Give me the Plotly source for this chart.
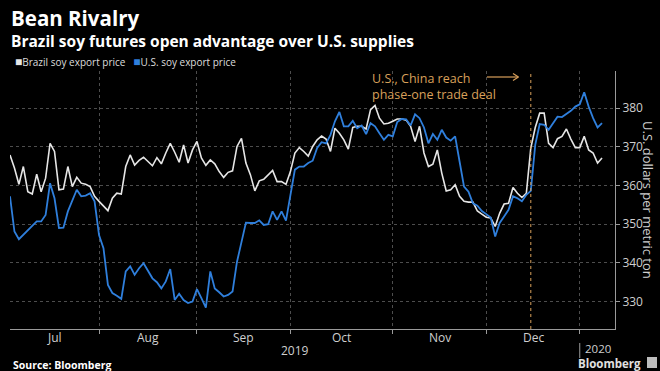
import pandas as pd
import plotly.graph_objects as go

# Daily soybean export prices, USD per metric ton (trading days)
HOLIDAYS = ["2019-07-04", "2019-12-25", "2020-01-01"]
START, END = "2019-07-03", "2020-01-09"

brazil = [
    367.9, 364.5, 360.3, 364.9, 358.4, 357.8, 362.9, 358.4, 361.9, 370.9,
    368.8, 358.9, 359.1, 364.9, 359.7, 362.1, 360.6, 360.3, 359.7, 357.2,
    355.9, 354.6, 353.5, 356.7, 358.0, 357.8, 364.9, 367.9,
    365.3, 366.5, 367.3, 366.2, 365.1, 367.2, 365.6, 368.4, 370.9, 368.6,
    366.0, 370.5, 365.8, 369.2, 371.4, 367.1, 365.2, 366.6, 365.6, 363.6,
    362.1, 363.4, 363.8, 370.1, 372.2, 365.8, 362.8,
    358.6, 361.2, 361.6, 362.8, 363.9, 361.0, 361.0, 360.3, 363.6, 368.4,
    369.8, 368.8, 367.6, 370.1, 371.8, 372.8, 372.0, 368.8, 374.8, 373.5,
    371.8, 369.4, 375.0, 375.3, 375.3, 374.6, 379.6,
    380.7, 377.4, 375.9, 376.1, 376.6, 377.2, 377.2, 376.9, 375.3, 371.4,
    375.3, 368.4, 364.9, 365.5, 369.2, 363.2, 358.6, 358.9, 360.2, 357.2,
    355.9, 355.7, 355.7, 353.4, 352.6, 351.8, 351.6,
    349.4, 352.8, 355.2, 355.4, 359.5, 358.0, 356.9, 358.0, 369.7, 375.0,
    378.7, 378.7, 370.9, 369.8, 372.1, 372.7, 374.6, 372.0, 369.8, 369.8,
    372.7, 369.2, 368.4, 365.8, 367.1,
]

us = [
    357.2, 348.1, 346.1, 347.2, 348.5, 349.6, 350.7, 350.7, 352.4, 360.6,
    356.7, 349.0, 349.1, 353.3, 356.0, 358.9, 357.2, 357.4, 358.0, 355.9,
    347.2, 343.8, 334.3, 332.2, 331.5, 330.7, 337.8, 339.1,
    336.9, 338.6, 339.9, 337.8, 336.0, 335.0, 333.4, 335.2, 338.4, 330.4,
    332.0, 330.4, 329.6, 330.0, 333.2, 330.9, 328.4, 337.8, 333.4, 332.4,
    331.3, 331.7, 332.6, 340.3, 345.5, 350.4, 350.3,
    350.3, 351.0, 349.8, 350.0, 353.3, 351.1, 353.3, 350.9, 357.6, 364.1,
    364.9, 364.9, 365.8, 366.4, 369.7, 371.2, 370.9, 373.1, 376.6, 379.0,
    375.3, 375.3, 376.7, 374.8, 375.5, 373.3, 376.1,
    375.3, 373.5, 371.8, 373.1, 372.7, 376.4, 377.2, 377.1, 375.5, 378.4,
    377.4, 375.0, 370.9, 373.3, 371.8, 374.4, 372.4, 371.6, 372.7, 366.2,
    359.7, 358.4, 355.4, 354.8, 353.4, 352.6, 351.7,
    346.8, 350.3, 352.0, 353.7, 357.2, 356.7, 355.9, 357.6, 358.6, 370.5,
    375.9, 375.7, 374.4, 376.1, 377.8, 377.7, 378.4, 379.3, 380.4, 381.0,
    384.1, 380.4, 377.4, 375.0, 376.1,
]

y_ticks = [330, 340, 350, 360, 370, 380]
deal_date = "2019-12-16"

dates = [d for d in pd.bdate_range(START, END) if d.strftime("%Y-%m-%d") not in HOLIDAYS]

WHITE = "#e6e6e6"
BLUE = "#2f7fdc"
ORANGE = "#d9a05b"
GRID = "#4d4d4d"
AXIS = "#9a9a9a"
TEXT = "#cfcfcf"
FONT = "Open Sans"

W, H = 660, 371
L, R, T, B = 10, 45, 71, 42
PW, PH = W - L - R, H - T - B


def px(xp):
    return (xp - L) / PW


def py(yp):
    return (H - B - yp) / PH


# first trading day of each month -> gridlines
month_idx = [0]
for i in range(1, len(dates)):
    if dates[i].month != dates[i - 1].month:
        month_idx.append(i)
month_starts = [dates[i] for i in month_idx[1:]]


def mid_date(i, j):
    k = (i + j) / 2
    base = dates[int(k)]
    return base + pd.Timedelta(hours=12) if k % 1 else base


fig = go.Figure()
fig.add_trace(go.Scatter(x=dates, y=brazil, mode="lines", name="Brazil soy export price",
                         line=dict(color=WHITE, width=1.6)))
fig.add_trace(go.Scatter(x=dates, y=us, mode="lines", name="U.S. soy export price",
                         line=dict(color=BLUE, width=1.8)))

ann = []
# month labels
for a, b in zip(month_idx[:-1], month_idx[1:]):
    ann.append(dict(x=mid_date(a, b), xref="x", y=py(337), yref="paper",
                    text=dates[a].strftime("%b"), showarrow=False,
                    font=dict(size=12, color=TEXT), yanchor="middle"))
jan_i = month_idx[-1]
ann.append(dict(x=mid_date(0, jan_i), xref="x", y=py(350.5), yref="paper", text="2019",
                showarrow=False, font=dict(size=12, color=TEXT), yanchor="middle"))
ann.append(dict(x=px(584), xref="paper", y=py(348.5), yref="paper", text="2020",
                showarrow=False, borderpad=0, font=dict(size=11.5, color=TEXT),
                xanchor="left", yanchor="middle"))

# headline, subtitle and legend
ann.append(dict(x=px(9), xref="paper", y=py(18), yref="paper", text="<b>Bean Rivalry</b>",
                showarrow=False, font=dict(size=20.5, color="#ffffff", family=FONT),
                xanchor="left", yanchor="middle"))
ann.append(dict(x=px(9), xref="paper", y=py(40.5), yref="paper",
                text="<b>Brazil soy futures open advantage over U.S. supplies</b>",
                showarrow=False, font=dict(size=15.5, color="#ffffff", family=FONT),
                xanchor="left", yanchor="middle"))
ann.append(dict(x=px(13), xref="paper", y=py(62), yref="paper",
                text=(f'<span style="color:{WHITE};font-size:12px">■</span>Brazil soy export price   '
                      f'<span style="color:{BLUE};font-size:12px">■</span>U.S. soy export price'),
                showarrow=False, font=dict(size=10, color="#dddddd", family=FONT),
                xanchor="left", yanchor="middle"))

# event note
ann.append(dict(x=px(370), xref="paper", y=py(86), yref="paper",
                text="U.S., China reach<br>phase-one trade deal", align="left",
                showarrow=False, font=dict(size=12.5, color=ORANGE, family=FONT),
                xanchor="left", yanchor="middle"))

# axis title
ann.append(dict(x=px(648), xref="paper", y=py(200), yref="paper",
                text="U.S. dollars per metric ton", textangle=90, showarrow=False,
                font=dict(size=13, color=TEXT, family=FONT), xanchor="center", yanchor="middle"))

# footer
ann.append(dict(x=px(11), xref="paper", y=py(365), yref="paper", text="<b>Source: Bloomberg</b>",
                showarrow=False, font=dict(size=10.5, color="#ffffff", family=FONT),
                xanchor="left", yanchor="middle"))
ann.append(dict(x=px(642), xref="paper", y=py(363.5), yref="paper", text="<b>Bloomberg</b>",
                showarrow=False, borderpad=0, font=dict(size=11.5, color="#e0e0e0", family=FONT),
                xanchor="right", yanchor="middle"))

shapes = [
    dict(type="line", xref="x", x0=deal_date, x1=deal_date, yref="paper", y0=0, y1=1,
         line=dict(color=ORANGE, width=1, dash="dot")),
    dict(type="line", xref="paper", x0=px(487), x1=px(518), yref="paper", y0=py(77), y1=py(77),
         line=dict(color=ORANGE, width=1.2)),
    dict(type="line", xref="paper", x0=px(513), x1=px(518.5), yref="paper", y0=py(73.5), y1=py(77),
         line=dict(color=ORANGE, width=1.2)),
    dict(type="line", xref="paper", x0=px(513), x1=px(518.5), yref="paper", y0=py(80.5), y1=py(77),
         line=dict(color=ORANGE, width=1.2)),
    dict(type="line", xref="x", x0=dates[jan_i], x1=dates[jan_i], yref="paper",
         y0=py(343), y1=py(358), line=dict(color=AXIS, width=1)),
    dict(type="rect", xref="paper", x0=px(647), x1=px(657), yref="paper", y0=py(368), y1=py(357),
         fillcolor="#bdbdbd", line=dict(width=0)),
]

fig.update_layout(
    width=W, height=H,
    margin=dict(l=L, r=R, t=T, b=B),
    paper_bgcolor="#000000", plot_bgcolor="#000000",
    showlegend=False,
    font=dict(family=FONT, color=TEXT),
    annotations=ann, shapes=shapes,
    xaxis=dict(
        type="date",
        range=[dates[0], pd.Timestamp("2020-01-13 22:00")],
        rangebreaks=[dict(bounds=["sat", "mon"]), dict(values=HOLIDAYS)],
        tickvals=month_starts, showticklabels=False,
        ticks="outside", ticklen=4, tickcolor=AXIS,
        showgrid=True, gridcolor=GRID, griddash="dot", gridwidth=1,
        showline=True, linecolor=AXIS, linewidth=1, zeroline=False,
    ),
    yaxis=dict(
        side="right", range=[322.9, 389.6], tickvals=y_ticks,
        ticks="outside", ticklen=4, tickcolor=AXIS,
        tickfont=dict(size=12, color=TEXT),
        showgrid=True, gridcolor=GRID, griddash="dot", gridwidth=1,
        showline=True, linecolor=AXIS, linewidth=1, zeroline=False,
    ),
)

fig.write_html("out.html")
